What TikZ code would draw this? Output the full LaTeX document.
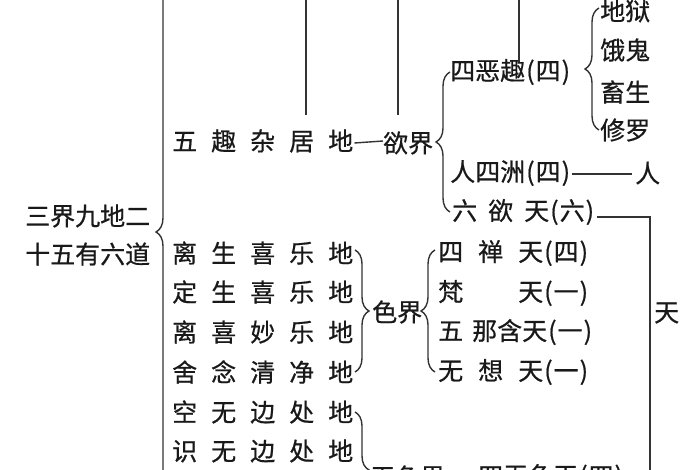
\documentclass[tikz,border=0pt]{standalone}
\usepackage{fontspec}
\newfontfamily\cjk[FakeBold=0.6]{Noto Sans CJK SC}
\usetikzlibrary{decorations.pathreplacing}
\newcommand\cA[1]{\makebox[39pt][l]{#1}}
\newcommand\cB[1]{\makebox[40pt][l]{#1}}
\newcommand\cC[1]{\makebox[36pt][l]{#1}}
\newcommand\pa[1]{\hspace{1pt}(\hspace{1pt}#1\hspace{1pt})}
\begin{document}
\begin{tikzpicture}[x=1pt,y=-1pt,
  lbl/.style={font=\cjk\fontsize{25}{25}\selectfont, inner sep=0pt, anchor=west, text=black!90},
  ln/.style={line width=1.4pt, black!80},
  br/.style={decorate, decoration={brace, amplitude=14pt}, line width=1.4pt, black!80}]
\fill[white] (0,0) rectangle (700,470);
\useasboundingbox (0,0) rectangle (700,470);
\clip (0,0) rectangle (700,470);

% left title
\node[lbl] (t1) at (25,216) {三界九地二};
\node[lbl] (t2) at (25,254) {十五有六道};

% desire realm
\node[lbl] (wuqu) at (172,141) {\cA{五}\cA{趣}\cA{杂}\cA{居}地};
\node[lbl] (yujie) at (383,143) {欲界};
\node[lbl] (equ) at (450,72) {四恶趣\pa{四}};
\node[lbl] (diyu) at (600,11) {地狱};
\node[lbl] (egui) at (600,50) {饿鬼};
\node[lbl] (chus) at (600,92) {畜生};
\node[lbl] (xiul) at (600,130) {修罗};
\node[lbl] (renz) at (450,173) {人四洲\pa{四}};
\node[lbl] (ren) at (635,173) {人};
\node[lbl] (liuyu) at (452,212) {\cC{六}\cC{欲}天\pa{六}};
\node[lbl] (tian) at (654,313) {天};

% rows
\node[lbl] (r1) at (172,253) {\cA{离}\cA{生}\cA{喜}\cA{乐}地};
\node[lbl] (r2) at (172,292) {\cA{定}\cA{生}\cA{喜}\cA{乐}地};
\node[lbl] (r3) at (172,332) {\cA{离}\cA{喜}\cA{妙}\cA{乐}地};
\node[lbl] (r4) at (172,372) {\cA{舍}\cA{念}\cA{清}\cA{净}地};
\node[lbl] (r5) at (172,412) {\cA{空}\cA{无}\cA{边}\cA{处}地};
\node[lbl] (r6) at (172,451) {\cA{识}\cA{无}\cA{边}\cA{处}地};

% form realm
\node[lbl] (sejie) at (372,312) {色界};
\node[lbl] (s1) at (438,253) {\cB{四}\cB{禅}天\pa{四}};
\node[lbl] (s2) at (438,293) {\cB{梵}\cB{}天\pa{一}};
\node[lbl] (s3) at (438,332) {\makebox[34pt][l]{五}那含天\pa{一}};
\node[lbl] (s4) at (438,372) {\cB{无}\cB{想}天\pa{一}};

% formless realm
\node[lbl] (wuse) at (370,477) {无色界};
\node[lbl] (wuset) at (478,477) {四无色天\pa{四}};

% braces
\draw[br] (170,489) -- (170,-25);
\draw[br] (450,212) -- (450,72);
\draw[br] (599,130) -- (599,8);
\draw[br] (355,250) -- (355,372);
\draw[br] (435,372) -- (435,250);
\draw[br] (355,412) -- (355,528);

% lines from above
\coordinate (v1a) at (306,-5); \coordinate (v1b) at (306,115);
\coordinate (v2a) at (398,-5); \coordinate (v2b) at (398,115);
\coordinate (v3a) at (519,-5); \coordinate (v3b) at (519,62);
\draw[ln] (v1a) -- (v1b);
\draw[ln] (v2a) -- (v2b);
\draw[ln] (v3a) -- (v3b);

% connectors
\draw[ln] (wuqu.east) ++(1,2) -- ([yshift=2pt]yujie.west);
\draw[ln] ([xshift=2pt,yshift=-1pt]renz.east) -- ([xshift=-3pt,yshift=-1pt]ren.west);
\coordinate (tc) at (650,217);
\coordinate (te) at (650,480);
\draw[ln] ([xshift=3pt]liuyu.east |- tc) -- (tc) -- (te);
\end{tikzpicture}
\end{document}
